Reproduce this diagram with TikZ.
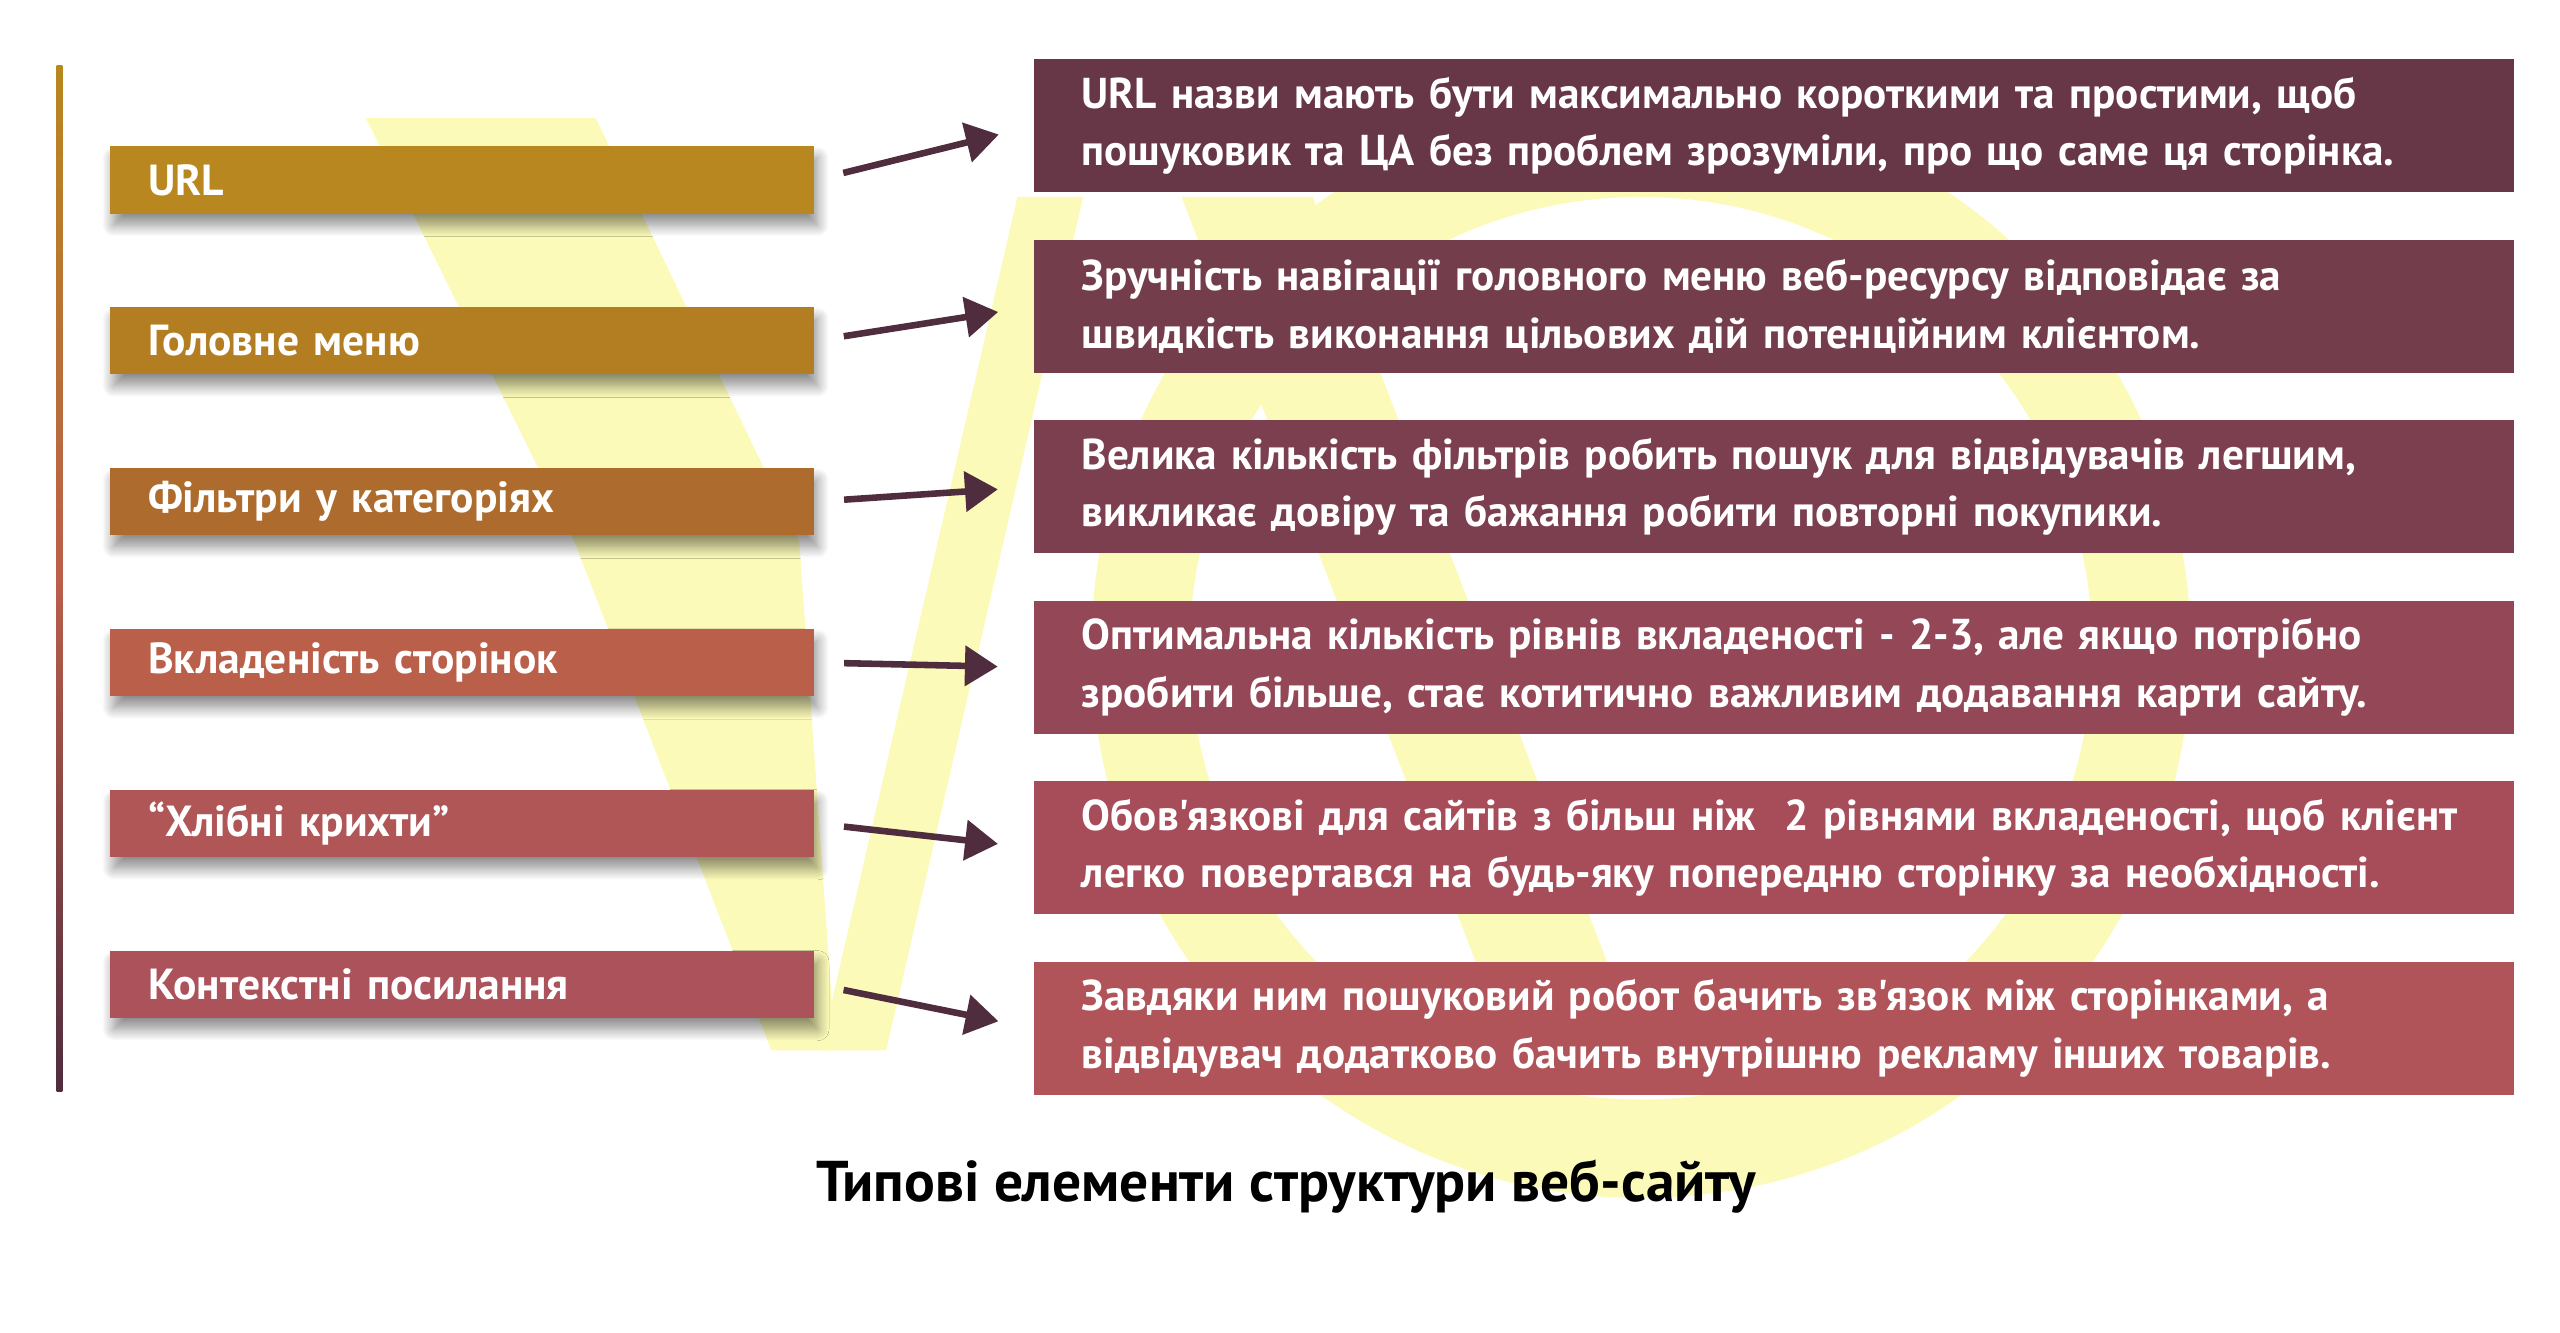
\documentclass[tikz,border=0pt]{standalone}
\usepackage{fontspec}
\setmainfont{PT Sans}
\newfontfamily\lbfont{PT Sans Bold}
\usetikzlibrary{arrows.meta,shadows.blur}
\definecolor{ylw}{HTML}{FBFAB8}
\definecolor{arr}{HTML}{4F2C3E}
\definecolor{la}{HTML}{B8871F}\definecolor{lb}{HTML}{B37E22}\definecolor{lc}{HTML}{AD6C2E}
\definecolor{ld}{HTML}{BA5F4A}\definecolor{le}{HTML}{B05657}\definecolor{lf}{HTML}{AC525B}
\definecolor{ra}{HTML}{673747}\definecolor{rb}{HTML}{733D4C}\definecolor{rc}{HTML}{7B3F50}
\definecolor{rd}{HTML}{934757}\definecolor{re}{HTML}{A74D5A}\definecolor{rf}{HTML}{B05459}
\tikzset{
 lbox/.style={anchor=north west,minimum width=429pt,minimum height=41pt,inner xsep=23pt,inner ysep=0pt,text width=383pt,align=left,text=white,font=\lbfont\fontsize{26.5}{30}\selectfont,blur shadow={shadow xshift=2pt,shadow yshift=-7pt,shadow blur radius=7pt,shadow opacity=45,shadow blur steps=12}},
 rbox/.style={anchor=north west,minimum width=902pt,minimum height=81pt,inner xsep=29pt,inner ysep=0pt,text width=844pt,align=left,text=white,font=\lbfont\fontsize{26.3}{35}\selectfont},
 con/.style={draw=arr,line width=4pt,-{Triangle[length=20pt,width=24pt]},shorten <=18pt,shorten >=22pt}
}
\begin{document}
\begin{tikzpicture}[x=1pt,y=-1pt]
\useasboundingbox (0,0) rectangle (1560,812);
% yellow background
\fill[ylw] (223,72) -- (363,72) -- (487,330) -- (509,640) -- (470,640) -- (350,330) -- cycle;
\fill[ylw] (500,640) -- (540,640) -- (660,120) -- (620,120) -- cycle;
\draw[ylw,line width=60pt] (1000,395) circle (305);
\fill[ylw] (720,120) -- (800,120) -- (1000,640) -- (920,640) -- cycle;
% left line
\shade[top color=la,bottom color=arr,middle color=ld] (34.5,40) rectangle (38,665);
% left boxes
\node[lbox,fill=la] (l1) at (67,89) {URL};
\node[lbox,fill=lb] (l2) at (67,187) {Головне меню};
\node[lbox,fill=lc] (l3) at (67,285) {Фільтри у категоріях};
\node[lbox,fill=ld] (l4) at (67,383) {Вкладеність сторінок};
\node[lbox,fill=le] (l5) at (67,481) {“Хлібні крихти”};
\node[lbox,fill=lf] (l6) at (67,579) {Контекстні посилання};
% right boxes
\node[rbox,fill=ra] (r1) at (630,36) {URL назви мають бути максимально короткими та простими, щоб\\пошуковик та ЦА без проблем зрозуміли, про що саме ця сторінка.};
\node[rbox,fill=rb] (r2) at (630,146) {Зручність навігації головного меню веб-ресурсу відповідає за\\швидкість виконання цільових дій потенційним клієнтом.};
\node[rbox,fill=rc] (r3) at (630,256) {Велика кількість фільтрів робить пошук для відвідувачів легшим,\\викликає довіру та бажання робити повторні покупики.};
\node[rbox,fill=rd] (r4) at (630,366) {Оптимальна кількість рівнів вкладеності - 2-3, але якщо потрібно\\зробити більше, стає котитично важливим додавання карти сайту.};
\node[rbox,fill=re] (r5) at (630,476) {Обов'язкові для сайтів з більш ніж~ 2 рівнями вкладеності, щоб клієнт\\легко повертався на будь-яку попередню сторінку за необхідності.};
\node[rbox,fill=rf] (r6) at (630,586) {Завдяки ним пошуковий робот бачить зв'язок між сторінками, а\\відвідувач додатково бачить внутрішню рекламу інших товарів.};
\foreach \i in {1,...,6}{\draw[con] (l\i.east) -- (r\i.west);}
\node[font=\lbfont\fontsize{35}{40}\selectfont] (title) at (784,723) {Типові елементи структури веб-сайту};
\end{tikzpicture}
\end{document}
